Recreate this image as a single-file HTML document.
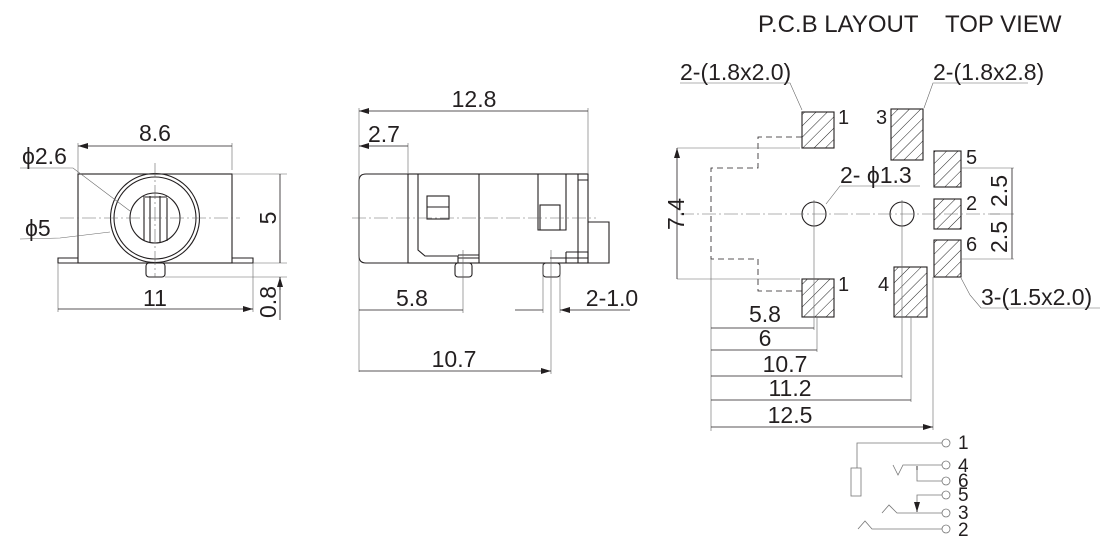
<!DOCTYPE html>
<html><head><meta charset="utf-8"><style>
html,body{margin:0;padding:0;background:#fff;}
svg{display:block;}
text{font-family:"Liberation Sans",Arial,sans-serif;fill:#231f20;}
</style></head><body>
<svg width="1120" height="546" viewBox="0 0 1120 546" xmlns="http://www.w3.org/2000/svg">
<defs>
<pattern id="h" width="8" height="8" patternUnits="userSpaceOnUse" patternTransform="rotate(45)">
<line x1="0" y1="0" x2="0" y2="8" stroke="#222" stroke-width="1"/>
</pattern>
<marker id="a" viewBox="0 0 10 6" refX="10" refY="3" markerWidth="11" markerHeight="6" orient="auto-start-reverse" markerUnits="userSpaceOnUse">
<path d="M0,0 L10,3 L0,6 z" fill="#231f20"/>
</marker>
</defs>
<g fill="none" stroke="#231f20" stroke-width="1.1">
<!-- LEFT FRONT VIEW -->
<rect x="78" y="174" width="154" height="89"/>
<path d="M78,258 H58 V263 H78 M232,258 H253 V263 H232"/>
<circle cx="155" cy="218" r="44.5"/>
<circle cx="155" cy="218" r="41"/>
<circle cx="155" cy="218" r="25"/>
<path d="M144,198 V241 M150,196 V242 M160,196 V242 M167,198 V241 M143,197 H167"/>
<rect x="146" y="263" width="19" height="14" rx="3"/>
<g stroke-width="0.6" stroke="#666">
<path d="M60,218 H240" stroke-dasharray="14,3,2,3"/>
<path d="M155,163 V277" stroke-dasharray="14,3,2,3"/>
<path d="M78,143 V174 M232,143 V170 M232,174 H287 M253,263 H287 M165,277 H287 M58,263 V312 M253,263 V312"/>
<path d="M20,168 H73 L130,211 M20,239 L60,238 L110,232"/>
</g>
<path d="M78,146 H232 M280,174 V263 M58,309 H253" marker-start="url(#a)" marker-end="url(#a)" stroke-width="0.8"/>
<path d="M280,250 V263 M280,290 V277" marker-end="url(#a)" stroke-width="0.8"/>
<path d="M280,277 V320" stroke-width="0.8"/>

<!-- SIDE VIEW -->
<path d="M408,174 H366 Q359,174 359,181 V256 Q359,263 366,263 H408"/>
<rect x="408" y="174" width="180" height="89"/>
<path d="M418,174 V250 L425,256 H458 V263 M479,174 V263 M538,174 V230 H566 V174 M578,174 V263 M578,180 H588 M588,222 H609 V263 H588 M566,252 H588 V263 M566,252 V263 M550,258 H588 M458,255 H479 M458,258 H479"/>
<rect x="427" y="196" width="22" height="23"/>
<path d="M427,207 H449"/>
<rect x="540" y="205" width="20" height="25"/>
<rect x="455" y="263" width="17" height="14" rx="3"/>
<rect x="543" y="263" width="17" height="14" rx="3"/>
<g stroke-width="0.6" stroke="#666">
<path d="M352,218 H596" stroke-dasharray="14,3,2,3"/>
<path d="M359,108 V372 M588,108 V174 M408,143 V174 M463,250 V313 M551,250 V374 M543,263 V313 M560,263 V313"/>
</g>
<path d="M359,111 H588 M359,310 H463 M359,371 H551" marker-start="url(#a)" marker-end="url(#a)" stroke-width="0.8"/>
<path d="M359,146 H408" marker-start="url(#a)" stroke-width="0.8"/>
<path d="M515,310 H543 M630,310 H560" marker-end="url(#a)" stroke-width="0.8"/>

<!-- PCB LAYOUT -->
<g fill="url(#h)">
<rect x="802" y="112" width="32" height="36"/>
<rect x="891" y="109" width="32" height="51"/>
<rect x="934" y="151" width="27" height="36"/>
<rect x="934" y="199" width="27" height="30"/>
<rect x="934" y="240" width="27" height="37"/>
<rect x="802" y="279" width="32" height="38"/>
<rect x="894" y="267" width="33" height="50"/>
</g>
<circle cx="814" cy="214" r="12"/>
<circle cx="902" cy="214" r="12"/>
<path d="M802,137 H758 V168 H711 V259 H758 V291 H802" stroke-dasharray="6,4" stroke-width="0.8"/>
<g stroke-width="0.6" stroke="#666">
<path d="M680,214 H1000" stroke-dasharray="14,3,2,3"/>
<path d="M814,200 V330 M902,200 V378 M677,148 H800 M677,279 H800 M961,168 H1014 M961,259 H1014 M990,214 H1014 M711,259 V431 M817,317 V352 M911,317 V402 M933,277 V430"/>
<path d="M680,83 H790 L802,110 M1028,83 H933 L924,108 M920,186 H840 L826,204 M1100,308 H981 L970,295 L961,278"/>
</g>
<path d="M677,148 V279 M1012,168 V214 M1012,214 V259 M711,328 H814 M711,350 H817 M711,376 H902 M711,400 H911 M711,427 H933" marker-start="url(#a)" marker-end="url(#a)" stroke-width="0.8"/>

<!-- SCHEMATIC -->
<g stroke="#777" stroke-width="0.8">
<circle cx="946" cy="443" r="4"/><circle cx="946" cy="465" r="4"/><circle cx="946" cy="481" r="4"/>
<circle cx="946" cy="495" r="4"/><circle cx="946" cy="513" r="4"/><circle cx="946" cy="529" r="4"/>
<path d="M942,443 H857 V468"/>
<rect x="851" y="468" width="10" height="28"/>
<path d="M893,465 L898,475 L903,465 H942 M942,481 H917 V466 M942,495 H917 V512 M882,513 L889,505 L897,513 H942 M858,529 L865,521 L872,529 H942"/>
</g>
<path d="M917,470 V466 M917,508 V512" marker-end="url(#a)" stroke-width="0.8"/>
</g>

<g font-size="23">
<text x="155" y="141" text-anchor="middle">8.6</text>
<text x="22" y="164">ϕ2.6</text>
<text x="25" y="236">ϕ5</text>
<text x="155" y="306" text-anchor="middle">11</text>
<text transform="translate(276,218) rotate(-90)" text-anchor="middle">5</text>
<text transform="translate(276,302) rotate(-90)" text-anchor="middle">0.8</text>
<text x="474" y="107" text-anchor="middle">12.8</text>
<text x="384" y="142" text-anchor="middle">2.7</text>
<text x="412" y="306" text-anchor="middle">5.8</text>
<text x="612" y="306" text-anchor="middle">2-1.0</text>
<text x="454" y="367" text-anchor="middle">10.7</text>
<text x="758" y="32" font-size="24">P.C.B LAYOUT</text>
<text x="945" y="32" font-size="24">TOP VIEW</text>
<text x="680" y="80">2-(1.8x2.0)</text>
<text x="933" y="80">2-(1.8x2.8)</text>
<text x="840" y="183">2- ϕ1.3</text>
<text x="981" y="305">3-(1.5x2.0)</text>
<text x="838" y="124" font-size="20">1</text>
<text x="876" y="124" font-size="20">3</text>
<text x="966" y="164" font-size="20">5</text>
<text x="966" y="210" font-size="20">2</text>
<text x="966" y="251" font-size="20">6</text>
<text x="838" y="291" font-size="20">1</text>
<text x="878" y="291" font-size="20">4</text>
<text transform="translate(684,214) rotate(-90)" text-anchor="middle">7.4</text>
<text transform="translate(1007,191) rotate(-90)" text-anchor="middle">2.5</text>
<text transform="translate(1007,237) rotate(-90)" text-anchor="middle">2.5</text>
<text x="765" y="322" text-anchor="middle">5.8</text>
<text x="765" y="346" text-anchor="middle">6</text>
<text x="785" y="372" text-anchor="middle">10.7</text>
<text x="790" y="396" text-anchor="middle">11.2</text>
<text x="790" y="423" text-anchor="middle">12.5</text>
</g>
<g font-size="19">
<text x="958" y="449">1</text>
<text x="958" y="472">4</text>
<text x="958" y="487">6</text>
<text x="958" y="501">5</text>
<text x="958" y="519">3</text>
<text x="958" y="536">2</text>
</g>
</svg>
</body></html>
